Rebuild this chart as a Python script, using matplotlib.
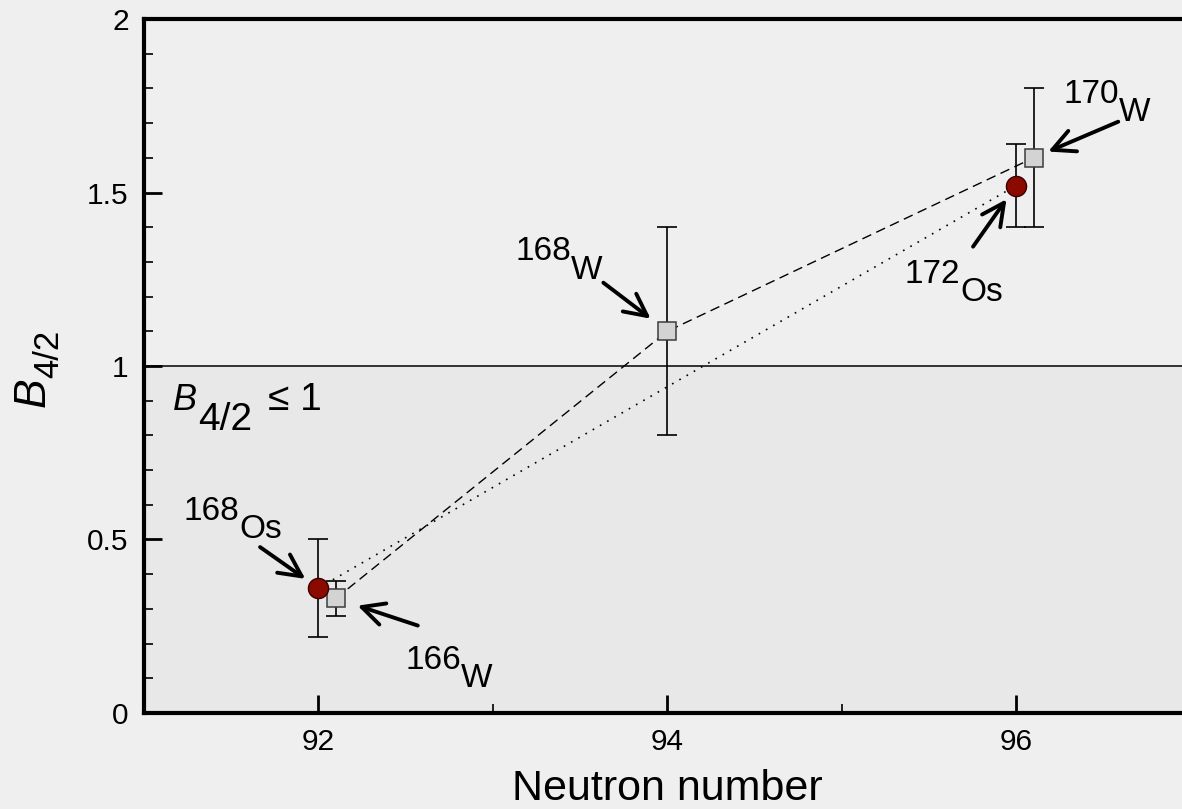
import matplotlib
matplotlib.use("Agg")
import matplotlib.pyplot as plt
from matplotlib.ticker import MultipleLocator, FixedLocator

# ------------------------------------------------------------
# данные
# ------------------------------------------------------------
W_N = [92.1, 94.0, 96.1]
W_B = [0.33, 1.10, 1.60]
W_LO = [0.28, 0.80, 1.40]
W_HI = [0.38, 1.40, 1.80]
W_MASS = ["166", "168", "170"]

OS_N = [92.0, 96.0]
OS_B = [0.36, 1.52]
OS_LO = [0.22, 1.40]
OS_HI = [0.50, 1.64]
OS_MASS = ["168", "172"]

X_TICKS = [92, 94, 96]
Y_TICKS = [0, 0.5, 1, 1.5, 2]
Y_TICKLABELS = ["0", "0.5", "1", "1.5", "2"]

BG = "#efefef"
SHADE = "#e8e8e8"

W_PX, H_PX = 1182, 809

plt.rcParams["font.family"] = ["Liberation Sans", "DejaVu Sans"]

fig = plt.figure(figsize=(W_PX / 100, H_PX / 100), dpi=100, facecolor=BG)
ax = fig.add_axes([0.1218, 0.1187, 0.8854, 0.8578])
ax.set_facecolor(BG)

ax.set_xlim(91, 97)
ax.set_ylim(0, 2)

# область B_4/2 <= 1
ax.axhspan(0, 1, color=SHADE, zorder=0, lw=0)
ax.axhline(1, color="black", lw=1.1, zorder=1)


def err(vals, lo, hi):
    return [[v - l for v, l in zip(vals, lo)], [h - v for v, h in zip(vals, hi)]]


ax.errorbar(W_N, W_B, yerr=err(W_B, W_LO, W_HI), fmt="none", ecolor="black",
            elinewidth=1.2, capsize=7, capthick=1.2, zorder=3)
ax.errorbar(OS_N, OS_B, yerr=err(OS_B, OS_LO, OS_HI), fmt="none", ecolor="black",
            elinewidth=1.2, capsize=7, capthick=1.2, zorder=3)

ax.plot(W_N, W_B, color="black", lw=1.0, ls=(0, (7, 4)), zorder=2)
ax.plot(OS_N, OS_B, color="black", lw=1.2, ls=(0, (1, 4)), zorder=2)

ax.plot(W_N, W_B, ls="none", marker="s", ms=13, mfc="#d3d3d3", mec="#3c3c3c",
        mew=1.1, zorder=4)
ax.plot(OS_N, OS_B, ls="none", marker="o", ms=14.5, mfc="#8b0a00", mec="#3a0000",
        mew=1.0, zorder=5)

# подписи изотопов: (масса, символ), сдвиг текста и хвоста стрелки в points
FS = 24


def iso_label(x, y, mass, sym, text_off, tail_off, gap):
    ax.annotate("", xy=(x, y), xytext=tail_off, textcoords="offset points",
                arrowprops=dict(arrowstyle="->,head_length=0.8,head_width=0.4",
                                lw=2.8, color="black", shrinkA=0, shrinkB=gap,
                                mutation_scale=20), zorder=6)
    ax.annotate(mass, xy=(x, y), xytext=text_off, textcoords="offset points",
                ha="left", va="baseline", fontsize=FS)
    ax.annotate(sym, xy=(x, y), xytext=(text_off[0] + 40, text_off[1] - 13),
                textcoords="offset points", ha="left", va="baseline", fontsize=FS)


iso_label(OS_N[0], OS_B[0], OS_MASS[0], "Os", (-97, 49), (-42, 29.5), 11.5)
iso_label(OS_N[1], OS_B[1], OS_MASS[1], "Os", (-80, -70), (-31, -44), 12)
iso_label(W_N[0], W_B[0], W_MASS[0], "W", (50, -50.5), (59, -19.5), 16.5)
iso_label(W_N[1], W_B[1], W_MASS[1], "W", (-109.5, 51), (-46, 35), 15)
iso_label(W_N[2], W_B[2], W_MASS[2], "W", (21.5, 39.5), (61, 26), 11.5)

# надпись B_4/2 <= 1 (индекс того же размера, что и B)
lx, ly = 91.163, 0.873
ax.annotate("B", xy=(lx, ly), xytext=(0, 0), textcoords="offset points",
            ha="left", va="baseline", fontsize=26, style="italic")
ax.annotate("4/2", xy=(lx, ly), xytext=(18.5, -14.5), textcoords="offset points",
            ha="left", va="baseline", fontsize=28)
ax.annotate("\u2264 1", xy=(lx, ly), xytext=(69, 0), textcoords="offset points",
            ha="left", va="baseline", fontsize=28)

# оси
ax.xaxis.set_major_locator(FixedLocator(X_TICKS))
ax.xaxis.set_minor_locator(FixedLocator([93, 95]))
ax.set_xticklabels([str(t) for t in X_TICKS])
ax.yaxis.set_major_locator(FixedLocator(Y_TICKS))
ax.set_yticklabels(Y_TICKLABELS)
ax.yaxis.set_minor_locator(MultipleLocator(0.1))

ax.tick_params(which="major", direction="in", length=13, width=2.0,
               labelsize=21.5, pad=11)
ax.tick_params(which="minor", direction="in", length=6.5, width=1.2)
ax.tick_params(axis="y", which="major", pad=11)
ax.tick_params(top=False, right=False, which="both")

for side in ("left", "bottom", "top"):
    ax.spines[side].set_linewidth(3)
ax.spines["right"].set_visible(False)

ax.set_xlabel("Neutron number", fontsize=31, labelpad=9)

# подпись оси Y: B и 4/2 отдельными повернутыми текстами
fig.text(45 / W_PX, 1 - 407 / H_PX, "B", rotation=90, rotation_mode="anchor",
         ha="left", va="baseline", fontsize=32, style="italic")
fig.text(58 / W_PX, 1 - 378 / H_PX, "4/2", rotation=90, rotation_mode="anchor",
         ha="left", va="baseline", fontsize=25)

fig.savefig("out.png", dpi=100, facecolor=BG)
